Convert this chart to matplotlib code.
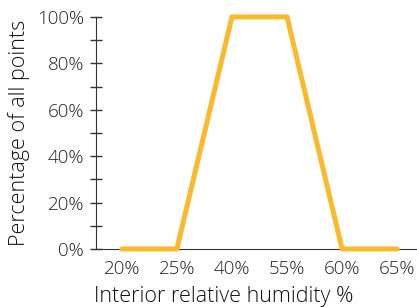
import numpy as np
import matplotlib.pyplot as plt
from matplotlib.ticker import MultipleLocator, PercentFormatter

humidity_labels = ['20%', '25%', '40%', '55%', '60%', '65%']
share_of_points = [0, 0, 100, 100, 0, 0]

plt.rcParams['font.family'] = ['Open Sans', 'DejaVu Sans']

fig = plt.figure(figsize=(4.17, 3.07), dpi=100)
ax = fig.add_axes([0.230, 0.189, 0.770, 0.756])

x = np.arange(len(humidity_labels))
ax.plot(x, share_of_points, color='#FBBA2B', lw=3.6, solid_capstyle='round', solid_joinstyle='round',
        clip_on=False, zorder=3)

ax.set_xlim(-0.47, 5.36)
ax.set_ylim(0, 100)
ax.set_xticks(x)
ax.set_xticklabels(humidity_labels)
ax.yaxis.set_major_locator(MultipleLocator(20))
ax.yaxis.set_minor_locator(MultipleLocator(10))
ax.yaxis.set_major_formatter(PercentFormatter(decimals=0))

for s in ['top', 'right']:
    ax.spines[s].set_visible(False)
ax.spines['left'].set_color('#333333')
ax.spines['bottom'].set_color('#333333')

ax.tick_params(axis='x', length=0, pad=8, labelsize=13.5, labelcolor='#222222')
ax.tick_params(axis='y', which='both', direction='inout', length=9, width=1, color='#333333',
               labelsize=13.5, labelcolor='#222222', pad=4)
for t in ax.get_xticklabels() + ax.get_yticklabels():
    t.set_fontweight('light')

ax.set_xlabel('Interior relative humidity %', fontsize=15.5, color='#111111', fontweight='light')
ax.xaxis.set_label_coords(-0.005, -0.16)
ax.xaxis.label.set_horizontalalignment('left')
ax.xaxis.label.set_verticalalignment('top')
ax.set_ylabel('Percentage of all points', fontsize=15.5, color='#111111', fontweight='light', labelpad=5)

fig.savefig('out.png', dpi=100)
